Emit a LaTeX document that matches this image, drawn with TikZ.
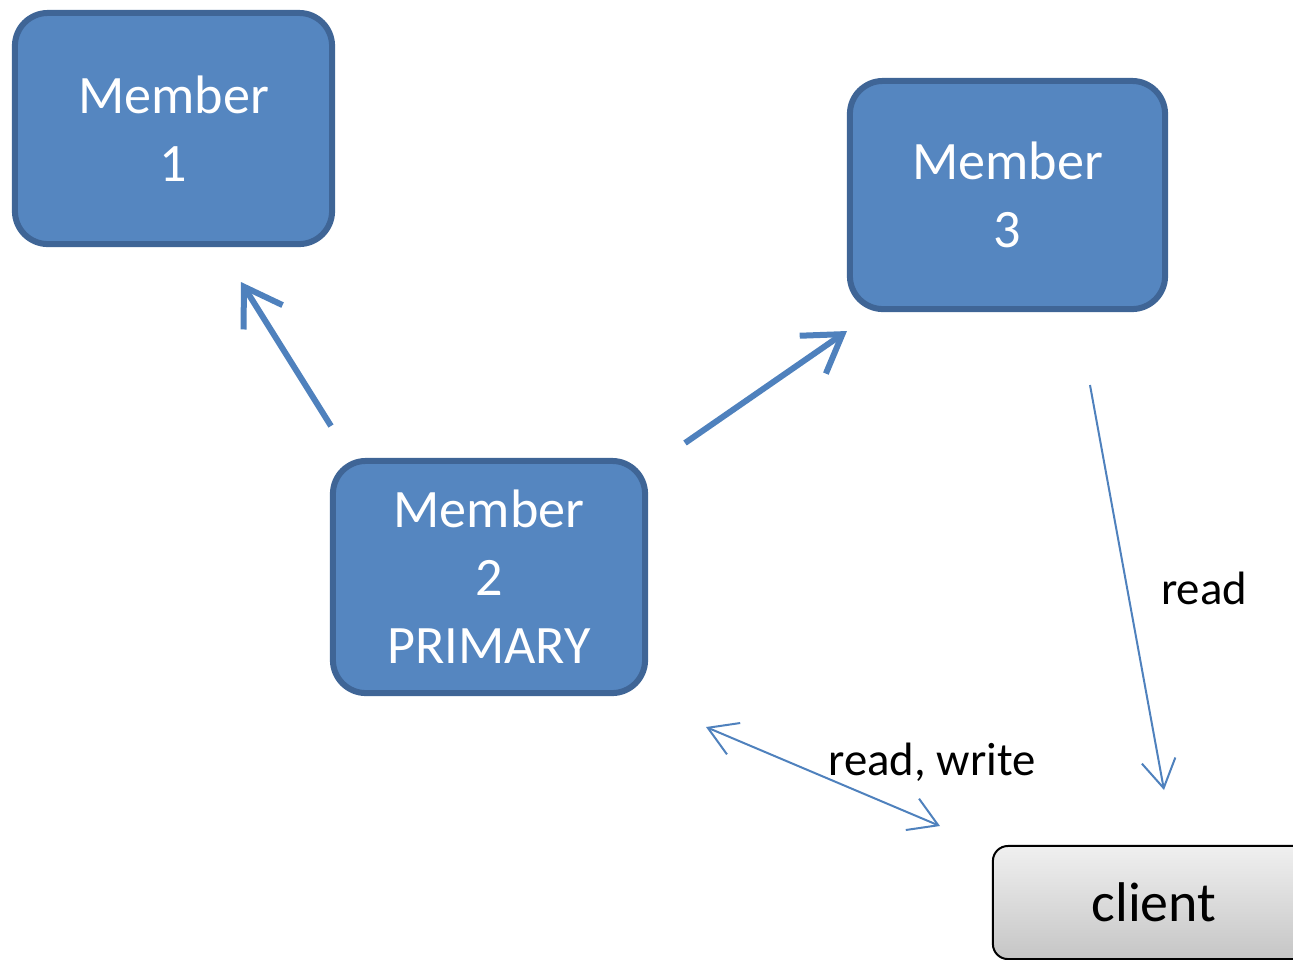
\documentclass[tikz,border=0pt]{standalone}
\usepackage{fontspec}
\setmainfont{Carlito}
\usetikzlibrary{arrows.meta}
\definecolor{boxfill}{HTML}{5586C0}
\definecolor{boxline}{HTML}{3F6596}
\definecolor{arrowblue}{HTML}{4F81BD}
\tikzset{
  member/.style={draw=boxline, fill=boxfill, line width=0.06cm, rounded corners=0.33cm,
    text=white, font=\fontsize{15.4}{19.3}\selectfont, align=center, inner sep=0pt},
  clientbox/.style={draw=black, line width=0.02cm, rounded corners=0.15cm,
    top color=gray!12, bottom color=gray!45, font=\fontsize{15.9}{19}\selectfont, inner sep=0pt},
  replicate/.style={draw=arrowblue, line width=0.06cm, -{Straight Barb[length=3.6mm,width=4.6mm]}},
  request/.style={draw=arrowblue, line width=0.02cm, -{Straight Barb[length=2.8mm,width=3.4mm]}},
  edgelabel/.style={font=\fontsize{13.3}{16}\selectfont}
}
\begin{document}
\begin{tikzpicture}[x=0.01cm, y=-0.01cm]
  \useasboundingbox (0,0) rectangle (1293,959);
  \begin{scope}
    \clip (0,0) rectangle (1293,959);
    \draw
      (173.5,128.5) node[member, minimum width=3.17cm, minimum height=2.31cm] (m1) {Member\\1}
      (1007.5,195) node[member, minimum width=3.15cm, minimum height=2.28cm] (m3) {Member\\3}
      (489,577) node[member, minimum width=3.12cm, minimum height=2.32cm] (m2) {Member\\2\\PRIMARY}
      (1154,902.5) node[clientbox, minimum width=3.22cm, minimum height=1.13cm] (client) {client};
  \end{scope}
  \coordinate (p1a) at (331,426);
  \coordinate (p1b) at (241,282);
  \coordinate (p3a) at (685,443);
  \coordinate (p3b) at (847,331);
  \coordinate (ra) at (1090,385);
  \coordinate (rb) at (1164,790);
  \coordinate (wa) at (706,727);
  \coordinate (wb) at (940,826);
  \begin{scope}
    \draw[replicate] (p1a) to (p1b);
    \draw[replicate] (p3a) to (p3b);
    \draw[request] (ra) to (rb);
    \draw[request, {Straight Barb[length=2.8mm,width=3.4mm]}-{Straight Barb[length=2.8mm,width=3.4mm]}] (wa) to (wb);
  \end{scope}
  \node[edgelabel] (readlabel) at (1204,588) {read};
  \node[edgelabel] (rwlabel) at (932,762) {read, write};
\end{tikzpicture}
\end{document}
